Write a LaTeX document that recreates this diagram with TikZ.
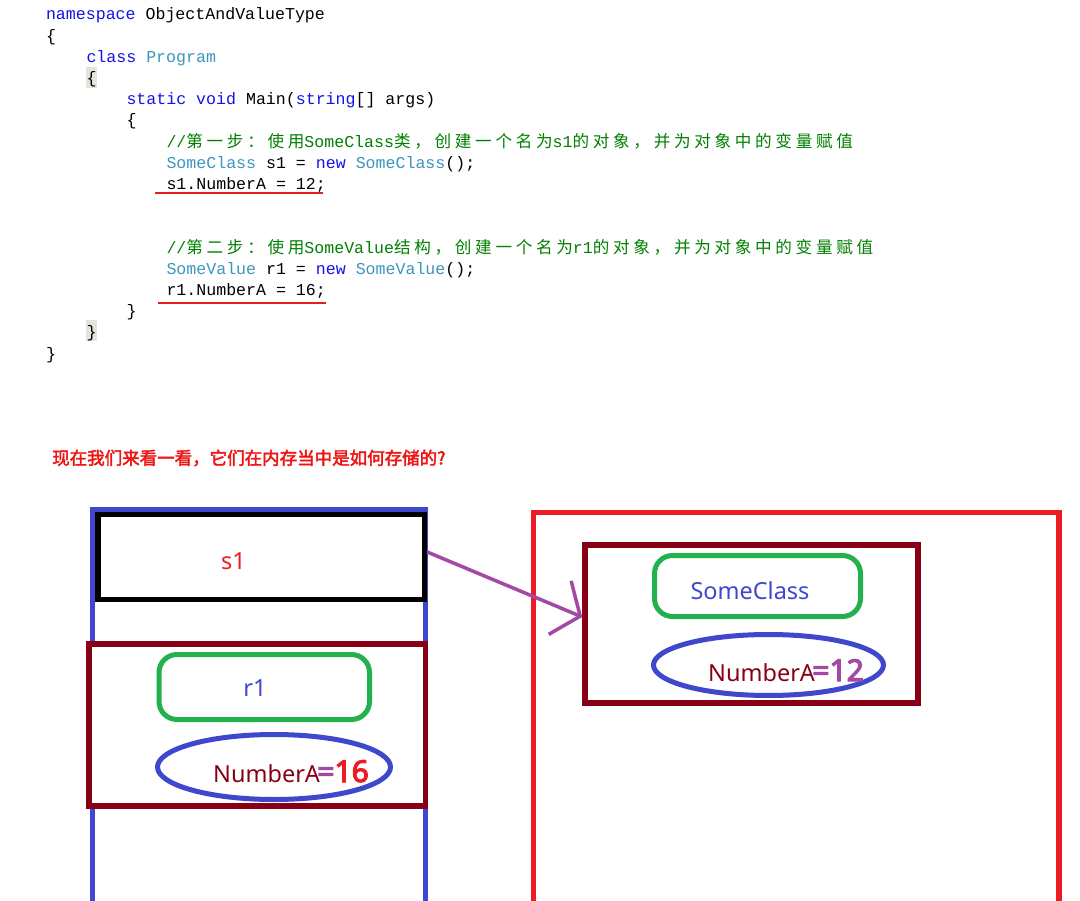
\documentclass[tikz,border=0pt]{standalone}
\usepackage{fontspec}
\setmainfont{Noto Sans}
\newfontfamily\codefont{Liberation Mono}
\newfontfamily\cjkcode[LetterSpace=22.2]{Noto Sans CJK SC}
\newfontfamily\cjkhead[FakeBold=2.5]{Noto Sans CJK SC}
\newfontfamily\valfont[FakeBold=4]{Noto Sans}
\usetikzlibrary{arrows.meta,shapes.geometric}
\definecolor{kwblue}{RGB}{20,20,230}
\definecolor{tyteal}{RGB}{60,150,190}
\definecolor{cmgreen}{RGB}{0,128,0}
\definecolor{hlgray}{RGB}{228,228,220}
\definecolor{ulred}{RGB}{224,32,32}
\definecolor{headred}{RGB}{240,20,20}
\definecolor{pblue}{RGB}{63,72,204}
\definecolor{pred}{RGB}{237,28,36}
\definecolor{pmaroon}{RGB}{136,0,21}
\definecolor{pgreen}{RGB}{34,177,76}
\definecolor{ppurple}{RGB}{163,73,164}
\newcommand\ckw[1]{\textcolor{kwblue}{#1}}
\newcommand\cty[1]{\textcolor{tyteal}{#1}}
\newcommand\ccm[1]{\textcolor{cmgreen}{#1}}
\tikzset{
  code/.style={anchor=base west, inner sep=0pt, outer sep=0pt, font=\codefont\fontsize{16.6}{20}\selectfont, text=black},
  uline/.style={draw=ulred, line width=2pt},
  stackline/.style={draw=pblue, line width=5pt, line cap=butt, line join=miter},
  heapline/.style={draw=pred, line width=5.5pt, line cap=butt, line join=miter},
  blackbox/.style={draw=black, line width=5.5pt, fill=white, inner sep=0pt},
  mbox/.style={draw=pmaroon, line width=5.5pt, fill=white, inner sep=0pt},
  gbox/.style={draw=pgreen, line width=5pt, rounded corners=18pt, inner sep=0pt},
  ell/.style={ellipse, draw=pblue, line width=5pt, inner sep=0pt},
  lbl/.style={inner sep=0pt, font=\fontsize{23.5}{26}\selectfont},
  val/.style={anchor=base west, inner sep=0pt, font=\valfont\fontsize{30}{32}\selectfont},
  parrow/.style={draw=ppurple, line width=3.5pt, -{Straight Barb[length=22pt,width=58pt,line width=3.5pt]}},
}
\begin{document}
\begin{tikzpicture}[x=1pt,y=-1pt]
\useasboundingbox (0,0) rectangle (1080,901);
\fill[white] (0,0) rectangle (1080,901);
% highlights of matching braces
\fill[hlgray] (86,67) rectangle (97,88);
\fill[hlgray] (86,320) rectangle (97,341);
% code
\node[code] (l0) at (46,20) {\ckw{namespace} ObjectAndValueType};
\node[code] (l1) at (46,41.2) {\{};
\node[code] (l2) at (86.5,62.4) {\ckw{class} \cty{Program}};
\node[code] (l3) at (86.5,83.6) {\{};
\node[code] (l4) at (126.5,104.8) {\ckw{static} \ckw{void} Main(\ckw{string}[] args)};
\node[code] (l5) at (126.5,126) {\{};
\node[code] (l6) at (166.5,147.2) {\ccm{//{\cjkcode 第一步：使用}SomeClass{\cjkcode 类，创建一个名为}s1{\cjkcode 的对象，并为对象中的变量赋值}}};
\node[code] (l7) at (166.5,168.4) {\cty{SomeClass} s1 = \ckw{new} \cty{SomeClass}();};
\node[code] (l8) at (166.5,189.6) {s1.NumberA = 12;};
\node[code] (l11) at (166.5,253.2) {\ccm{//{\cjkcode 第二步：使用}SomeValue{\cjkcode 结构，创建一个名为}r1{\cjkcode 的对象，并为对象中的变量赋值}}};
\node[code] (l12) at (166.5,274.4) {\cty{SomeValue} r1 = \ckw{new} \cty{SomeValue}();};
\node[code] (l13) at (166.5,295.6) {r1.NumberA = 16;};
\node[code] (l14) at (126.5,316.8) {\}};
\node[code] (l15) at (86.5,338) {\}};
\node[code] (l16) at (46,359.2) {\}};
\draw[uline] (155,193.5) -- (323,193.5);
\draw[uline] (158,303) -- (326,303);
% heading
\node[anchor=west, inner sep=0pt, font=\cjkhead\fontsize{17.5}{20}\selectfont, text=headred] (head) at (52,458) {现在我们来看一看，它们在内存当中是如何存储的?};
% stack
\draw[stackline] (92.5,901) -- (92.5,509) -- (425.5,509) -- (425.5,901);
\node[blackbox, minimum width=326.5pt, minimum height=85pt] (s1box) at (261.25,557) {};
\node[lbl, text=pred] (s1lab) at (233.5,561) {s1};
\node[mbox, minimum width=336.5pt, minimum height=162pt] (r1box) at (257.25,725) {};
\node[gbox, minimum width=210.5pt, minimum height=65pt] (r1cls) at (264.25,687) {};
\node[lbl, text=pblue] (r1lab) at (255,688) {r1};
\node[ell, minimum width=233pt, minimum height=65pt] (r1ell) at (274,767) {};
\node[lbl, anchor=base west, text=pmaroon] (r1num) at (213,782) {NumberA};
\node[val, xshift=-3pt] (r1val) at (r1num.base east) {\textcolor{ppurple}{=}\textcolor{pred}{16}};
% heap
\draw[heapline] (533.5,901) -- (533.5,512.5) -- (1059,512.5) -- (1059,901);
\node[mbox, minimum width=333pt, minimum height=158pt] (objbox) at (751.5,624) {};
\node[gbox, minimum width=206pt, minimum height=61pt] (objcls) at (757.5,586) {};
\node[lbl, text=pblue] (clslab) at (750,591) {SomeClass};
\node[ell, minimum width=230pt, minimum height=61pt] (objell) at (768.5,665) {};
\node[lbl, anchor=base west, text=pmaroon] (objnum) at (708,681) {NumberA};
\node[val, xshift=-3pt, text=ppurple] (objval) at (objnum.base east) {=12};
% reference arrow
\draw[parrow] ([yshift=5pt]s1box.east) -- ([yshift=7pt]objbox.west);
\end{tikzpicture}
\end{document}
